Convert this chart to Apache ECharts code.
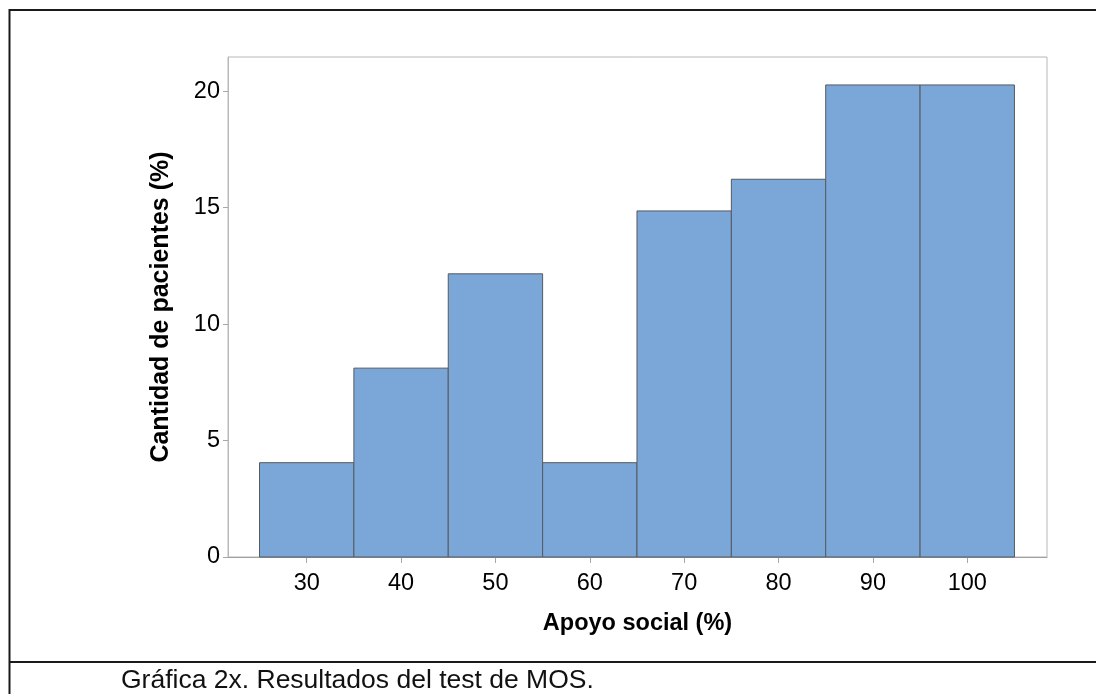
<!DOCTYPE html>
<html>
<head>
<meta charset="utf-8">
<script src="https://cdn.jsdelivr.net/npm/echarts@6/dist/echarts.min.js"></script>
<style>
html,body{margin:0;padding:0;background:#fff;}
#chart{width:1096px;height:694px;}
</style>
</head>
<body>
<div id="chart"></div>
<script>
// Histogram data: bin edges (Apoyo social %) and bar heights (Cantidad de pacientes %)
const binEdges = [25, 35, 45, 55, 65, 75, 85, 95, 105];
const percentages = [4.05, 8.11, 12.16, 4.05, 14.86, 16.22, 20.27, 20.27];
const xTickValues = [30, 40, 50, 60, 70, 80, 90, 100];
const yTickValues = [0, 5, 10, 15, 20];
const xAxisTitle = 'Apoyo social (%)';
const yAxisTitle = 'Cantidad de pacientes (%)';
const captionText = 'Gráfica 2x. Resultados del test de MOS.';

const barData = percentages.map((v, i) => [binEdges[i], binEdges[i + 1], v]);

const FONT = "'Liberation Sans', Arial, sans-serif";
const chart = echarts.init(document.getElementById('chart'), null, {renderer: 'canvas'});

chart.setOption({
  animation: false,
  backgroundColor: '#ffffff',
  grid: {
    left: 228, top: 57, right: 49, bottom: 137,
    show: true, borderColor: '#b8b8b8', borderWidth: 1, backgroundColor: 'transparent'
  },
  xAxis: {
    type: 'value',
    min: 21.66, max: 108.45,
    name: xAxisTitle,
    nameLocation: 'middle',
    nameGap: 55,
    nameTextStyle: {fontFamily: FONT, fontSize: 23.5, fontWeight: 'bold', color: '#000'},
    axisLine: {show: true, lineStyle: {color: '#a0a0a0', width: 1}},
    axisTick: {show: true, length: 6, lineStyle: {color: '#a8a8a8'}, customValues: xTickValues},
    axisLabel: {fontFamily: FONT, fontSize: 23.5, color: '#000', margin: 15, customValues: xTickValues},
    splitLine: {show: false}
  },
  yAxis: {
    type: 'value',
    min: 0, max: 21.47,
    name: yAxisTitle,
    nameLocation: 'middle',
    nameGap: 54,
    nameRotate: 90,
    nameTextStyle: {fontFamily: FONT, fontSize: 25, fontWeight: 'bold', color: '#000'},
    axisLine: {show: true, lineStyle: {color: '#b8b8b8', width: 1}},
    axisTick: {show: true, length: 5, lineStyle: {color: '#a8a8a8'}, customValues: yTickValues},
    axisLabel: {fontFamily: FONT, fontSize: 23.5, color: '#000', margin: 8, customValues: yTickValues},
    splitLine: {show: false}
  },
  series: [{
    type: 'custom',
    data: barData,
    encode: {x: [0, 1], y: 2},
    renderItem: function (params, api) {
      const p0 = api.coord([api.value(0), api.value(2)]);
      const p1 = api.coord([api.value(1), 0]);
      return {
        type: 'rect',
        shape: {x: p0[0], y: p0[1], width: p1[0] - p0[0], height: p1[1] - p0[1]},
        style: {fill: '#7ba7d8', stroke: '#555a60', lineWidth: 1}
      };
    }
  }],
  graphic: [
    {type: 'line', shape: {x1: 9.5, y1: 10, x2: 1096, y2: 10}, style: {stroke: '#1a1a1a', lineWidth: 2}, silent: true},
    {type: 'line', shape: {x1: 9.5, y1: 9, x2: 9.5, y2: 694}, style: {stroke: '#1a1a1a', lineWidth: 2}, silent: true},
    {type: 'line', shape: {x1: 9, y1: 662, x2: 1096, y2: 662}, style: {stroke: '#1a1a1a', lineWidth: 2}, silent: true},
    {type: 'text', left: 121, top: 667, style: {text: captionText, font: '26.5px ' + FONT, fill: '#111'}, silent: true}
  ]
});
</script>
</body>
</html>
